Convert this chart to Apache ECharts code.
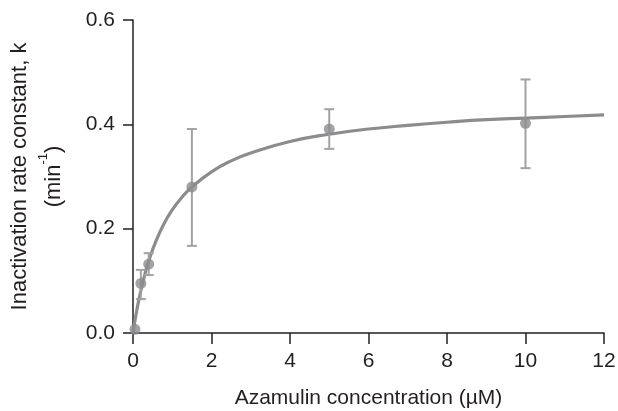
<!DOCTYPE html>
<html>
<head>
<meta charset="utf-8">
<script src="https://cdn.jsdelivr.net/npm/echarts@6/dist/echarts.min.js"></script>
<style>
  html, body { margin: 0; padding: 0; background: #fff; }
  #chart { width: 618px; height: 411px; }
</style>
</head>
<body>
<div id="chart"></div>
<script>
// measured points (azamulin, µM) with error bar ends
const concentrations = [0.05, 0.2, 0.4, 1.5, 5, 10]
const rates = [0.007, 0.095, 0.132, 0.28, 0.391, 0.402]
const errLow = [null, 0.065, 0.111, 0.167, 0.353, 0.316]
const errHigh = [null, 0.121, 0.153, 0.391, 0.429, 0.486]

// fitted curve
const fitX = [0, 0.1, 0.2, 0.3, 0.4, 0.6, 0.8, 1, 1.2, 1.5, 2, 2.5, 3, 4, 5, 6, 7, 8, 9, 10, 11, 12]
const fitY = [0, 0.045, 0.081, 0.112, 0.138, 0.179, 0.211, 0.236, 0.256, 0.280, 0.309, 0.330, 0.345, 0.367, 0.381, 0.391, 0.398, 0.404, 0.409, 0.412, 0.415, 0.418]

const xTicks = [0, 2, 4, 6, 8, 10, 12]
const yTicks = [0, 0.2, 0.4, 0.6]

const FONT = '"Liberation Sans", Arial, sans-serif'
const AXIS_COLOR = '#231f20'
const CURVE_COLOR = '#8c8c8e'
const BAR_COLOR = '#a2a2a4'

const chart = echarts.init(document.getElementById('chart'))

const pointData = concentrations.map((c, i) => [c, rates[i]])
const errData = concentrations
  .map((c, i) => [c, errLow[i], errHigh[i]])
  .filter(d => d[1] != null)

const option = {
  animation: false,
  backgroundColor: '#fff',
  grid: { left: 133, right: 14, top: 20, bottom: 78, outerBoundsMode: 'none' },
  xAxis: {
    type: 'value',
    min: xTicks[0],
    max: xTicks[xTicks.length - 1],
    interval: 2,
    name: 'Azamulin concentration (µM)',
    nameLocation: 'middle',
    nameGap: 55,
    nameTextStyle: { fontFamily: FONT, fontSize: 21, color: AXIS_COLOR },
    axisLine: { onZero: false, lineStyle: { color: AXIS_COLOR, width: 1.5 } },
    axisTick: { length: 11, lineStyle: { color: AXIS_COLOR, width: 1.5 } },
    axisLabel: { margin: 18, fontFamily: FONT, fontSize: 21, color: AXIS_COLOR },
    splitLine: { show: false }
  },
  yAxis: {
    type: 'value',
    min: yTicks[0],
    max: yTicks[yTicks.length - 1],
    interval: 0.2,
    name: '{a|Inactivation rate constant, k}\n{a|(min}{sup|-1}{a|)}',
    nameLocation: 'middle',
    nameRotate: 90,
    nameGap: 62,
    nameTextStyle: {
      fontFamily: FONT,
      color: AXIS_COLOR,
      rich: {
        a: { fontFamily: FONT, fontSize: 22, lineHeight: 34, color: AXIS_COLOR },
        sup: { fontFamily: FONT, fontSize: 13, lineHeight: 24, verticalAlign: 'top', color: AXIS_COLOR }
      }
    },
    axisLine: { show: true, onZero: false, lineStyle: { color: AXIS_COLOR, width: 1.5 } },
    axisTick: { show: true, length: 10, lineStyle: { color: AXIS_COLOR, width: 1.5 } },
    axisLabel: {
      margin: 18,
      fontFamily: FONT,
      fontSize: 21,
      color: AXIS_COLOR,
      formatter: v => v.toFixed(1)
    },
    splitLine: { show: false }
  },
  series: [
    {
      name: 'fit',
      type: 'line',
      data: fitX.map((x, i) => [x, fitY[i]]),
      smooth: true,
      showSymbol: false,
      lineStyle: { color: CURVE_COLOR, width: 3.2 },
      z: 2
    },
    {
      name: 'error',
      type: 'custom',
      data: errData,
      renderItem: (params, api) => {
        const lo = api.coord([api.value(0), api.value(1)])
        const hi = api.coord([api.value(0), api.value(2)])
        const cap = 5
        const style = { stroke: BAR_COLOR, lineWidth: 2 }
        return {
          type: 'group',
          children: [
            { type: 'line', shape: { x1: lo[0], y1: lo[1], x2: hi[0], y2: hi[1] }, style },
            { type: 'line', shape: { x1: lo[0] - cap, y1: lo[1], x2: lo[0] + cap, y2: lo[1] }, style },
            { type: 'line', shape: { x1: hi[0] - cap, y1: hi[1], x2: hi[0] + cap, y2: hi[1] }, style }
          ]
        }
      },
      z: 3
    },
    {
      name: 'data',
      type: 'scatter',
      data: pointData,
      symbol: 'circle',
      symbolSize: 11,
      itemStyle: { color: CURVE_COLOR },
      z: 4
    }
  ]
}

chart.setOption(option)
</script>
</body>
</html>
